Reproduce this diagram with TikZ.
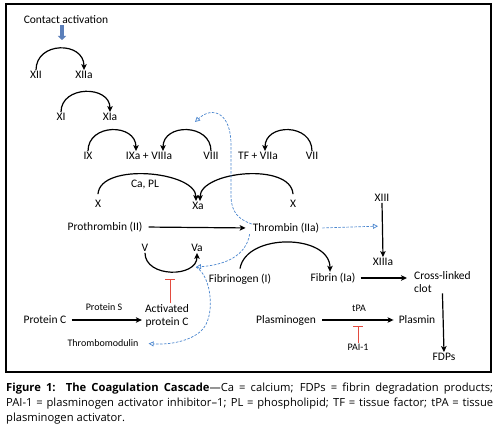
\documentclass[tikz,border=0pt]{standalone}
\usepackage{fontspec}
\setmainfont{Carlito}
\newfontfamily\capfont{Open Sans}
\usetikzlibrary{arrows.meta}
\definecolor{dblue}{HTML}{4A86CF}
\definecolor{tred}{HTML}{E24B3F}
\definecolor{fatblue}{HTML}{5B7FBA}
\begin{document}
\begin{tikzpicture}[x=1pt,y=-1pt,
  lab/.style={font=\fontsize{11.5}{13}\selectfont, inner sep=1pt},
  sm/.style={font=\fontsize{10}{12}\selectfont, inner sep=1pt},
  arcarrow/.style={line width=1.2pt, -{Stealth[length=6pt,width=5.5pt,inset=1.5pt]}},
  plainarrow/.style={line width=1.2pt, -{Stealth[length=6pt,width=5.5pt,inset=1.5pt]}},
  dasharrow/.style={dblue, line width=0.7pt, dash pattern=on 2.5pt off 1.5pt, -{Stealth[length=5pt,width=5pt,open,inset=0pt]}},
  inhib/.style={tred, line width=0.9pt, -{Bar[width=10pt]}},
  capstyle/.style={font=\capfont\fontsize{11.2}{13}\selectfont, inner sep=0pt, anchor=base west}
]
\useasboundingbox (0,0) rectangle (500,430);
\fill[white] (0,0) rectangle (500,430);
\draw[line width=1.1pt] (6,4) rectangle (491,372);

% labels
\node[lab] (contact) at (66,20) {Contact activation};
\node[lab] (XII) at (36,75) {XII};
\node[lab] (XIIa) at (84,75) {XIIa};
\node[lab] (XI) at (61,117) {XI};
\node[lab] (XIa) at (110,117) {XIa};
\node[lab] (IX) at (88,156) {IX};
\node[lab] (IXa) at (149,156) {IXa + VIIIa};
\node[lab] (VIII) at (211,156) {VIII};
\node[lab] (TF) at (258,156) {TF + VIIa};
\node[lab] (VII) at (312,156) {VII};
\node[lab] (CaPL) at (145,185) {Ca, PL};
\node[lab] (X1) at (98,204) {X};
\node[lab] (Xa) at (198,206) {Xa};
\node[lab] (X2) at (293,204) {X};
\node[lab] (pro) at (105,227) {Prothrombin (II)};
\node[lab] (thr) at (286,228) {Thrombin (IIa)};
\node[lab] (XIII) at (382,198) {XIII};
\node[lab] (XIIIa) at (383,262) {XIIIa};
\node[lab] (V) at (145,248) {V};
\node[lab] (Va) at (197,248) {Va};
\node[lab] (fbg) at (240,279) {Fibrinogen (I)};
\node[lab] (fbn) at (333,278) {Fibrin (Ia)};
\node[lab, align=left, anchor=north west] (clot) at (413,270) {Cross-linked\\clot};
\node[lab] (pC) at (45,320) {Protein C};
\node[sm] (pS) at (104,307) {Protein S};
\node[lab, align=center] (apc) at (167,316) {Activated\\protein C};
\node[lab] (plg) at (286,320) {Plasminogen};
\node[sm] (tpa) at (359,308) {tPA};
\node[lab] (pls) at (417,320) {Plasmin};
\node[sm] (pai) at (358,347) {PAI-1};
\node[sm] (tm) at (103,343) {Thrombomodulin};
\node[lab] (fdp) at (444,357) {FDPs};

% contact activation fat arrow
\coordinate (cta) at (62,40);
\draw[fatblue, line width=3.5pt, -{Triangle[length=4pt,width=8pt]}] (cta |- contact.south) -- (cta);

% arcs
\draw[arcarrow] (XII.north) .. controls +(0,-29) and +(0,-29) .. (XIIa.north);
\draw[arcarrow] (XI.north) .. controls +(0,-27) and +(0,-27) .. (XIa.north);
\draw[arcarrow] (IX.north) .. controls +(0,-28) and +(0,-28) .. ([xshift=-13pt]IXa.north);
\draw[arcarrow] (VIII.north) .. controls +(0,-28) and +(0,-28) .. ([xshift=14pt]IXa.north);
\draw[arcarrow] (VII.north) .. controls +(0,-28) and +(0,-28) .. ([xshift=7pt]TF.north);
\draw[arcarrow] ([yshift=5pt]X1.north) .. controls +(2,-32) and +(0,-30) .. ([xshift=-2pt]Xa.north);
\draw[arcarrow] ([yshift=5pt]X2.north) .. controls +(-2,-32) and +(0,-30) .. ([xshift=2pt]Xa.north);
\draw[arcarrow] (V.south) .. controls +(0,25) and +(0,25) .. (Va.south);
\draw[arcarrow] ([yshift=4pt]fbg.north) .. controls +(6,-36) and +(0,-38) .. ([xshift=-3pt]fbn.north);

% straight arrows
\draw[plainarrow, shorten <=5pt, shorten >=6pt] (pro.east) -- (thr.west);
\draw[plainarrow] (XIII.south) -- (XIIIa.north);
\draw[plainarrow, shorten <=4pt, shorten >=6pt] (fbn.east) -- (fbn.east -| clot.west);
\draw[plainarrow] (clot.south) -- (fdp.north);
\draw[plainarrow, shorten <=5pt, shorten >=4pt] (plg.east) -- (pls.west);
\draw[plainarrow, shorten <=4pt, shorten >=2pt] (pC.east) -- (pC.east -| apc.west);

% inhibition
\coordinate (vbot) at (170,279);
\draw[inhib] ([xshift=3pt]apc.north) -- (vbot);
\coordinate (tpabar) at (358,326);
\draw[inhib] (pai.north) -- (tpabar);

% dashed blue
\coordinate (xiiiline) at (383,226);
\draw[dasharrow, shorten <=2pt, shorten >=5pt] (thr.east) -- (xiiiline);
\coordinate (ixtip) at (195,122);
\draw[dasharrow] ([yshift=4pt]thr.west) .. controls (238,219) and (231,212) .. (231,195) -- (231,145) .. controls (231,112) and (212,106) .. (ixtip);
\coordinate (vatip) at (196,267);
\draw[dasharrow] ([xshift=-2pt]thr.south west) .. controls (246,256) and (225,265) .. (vatip);
\draw[dasharrow, shorten >=9pt] (vatip) .. controls (212,276) and (216,318) .. (201,331) .. controls (190,341) and (170,345) .. (tm.east);

% caption
\node[capstyle] (cap1) at (6,391) {\makebox[487pt][s]{\textbf{Figure 1:\ \ The Coagulation Cascade}—Ca = calcium; FDPs = fibrin degradation products;}};
\node[capstyle] (cap2) at (6,406) {\makebox[487pt][s]{PAI-1 = plasminogen activator inhibitor–1; PL = phospholipid; TF = tissue factor; tPA = tissue}};
\node[capstyle] (cap3) at (6,421) {plasminogen activator.};
\end{tikzpicture}
\end{document}
